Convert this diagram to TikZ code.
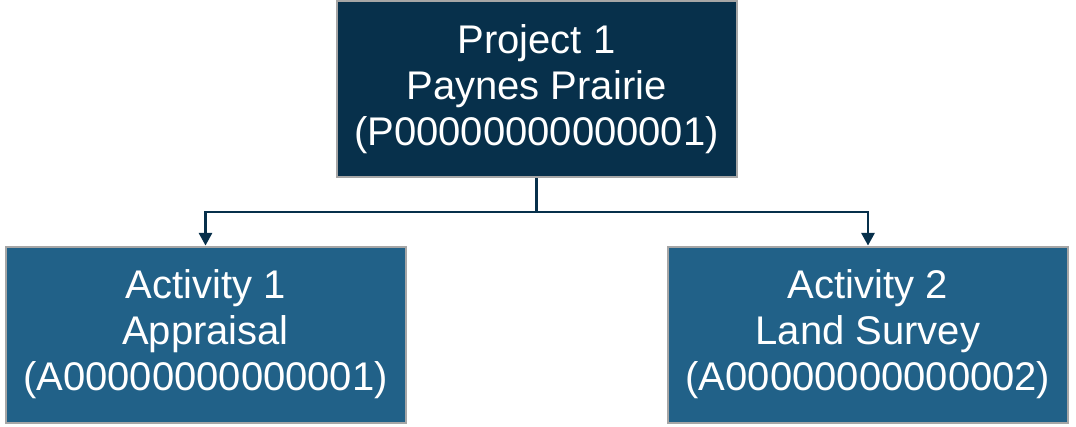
\documentclass[tikz,border=0pt]{standalone}
\usepackage{fontspec}
\setmainfont{Liberation Sans}
\usetikzlibrary{arrows.meta}

\definecolor{projfill}{RGB}{7,48,75}
\definecolor{actfill}{RGB}{33,97,136}
\definecolor{boxline}{RGB}{166,166,166}

\tikzset{every picture/.style={line width=0.75pt}}
\tikzset{
  orgbox/.style={draw=boxline, line width=1.5pt, minimum width=300pt, minimum height=132pt,
    inner sep=0pt, align=center, text=white, font=\fontsize{30}{34.5}\selectfont},
  projbox/.style={orgbox, fill=projfill},
  actbox/.style={orgbox, fill=actfill},
  link/.style={draw=projfill, line width=1.6pt},
  linkarrow/.style={link, -{Triangle[width=10pt,length=9.5pt]}}
}

\begin{document}
\begin{tikzpicture}[x=0.75pt,y=0.75pt,yscale=-1,xscale=1]
        \useasboundingbox (0,0) rectangle (1076,426);
        % Project box
        \node [projbox] (proj) at (536.5,89) {Project 1\\Paynes Prairie\\(P00000000000001)};
        % Activity boxes
        \node [actbox] (act1) at (205.5,334.5) {Activity 1\\Appraisal\\(A00000000000001)};
        \node [actbox] (act2) at (868,334.5) {Activity 2\\Land Survey\\(A00000000000002)};
        % Connectors
        \coordinate (split) at (536.5,212);
        \draw [link] (proj.south) -- (split);
        \draw [linkarrow] (split) -| (act1.north);
        \draw [linkarrow] (split) -| (act2.north);
\end{tikzpicture}
\end{document}
